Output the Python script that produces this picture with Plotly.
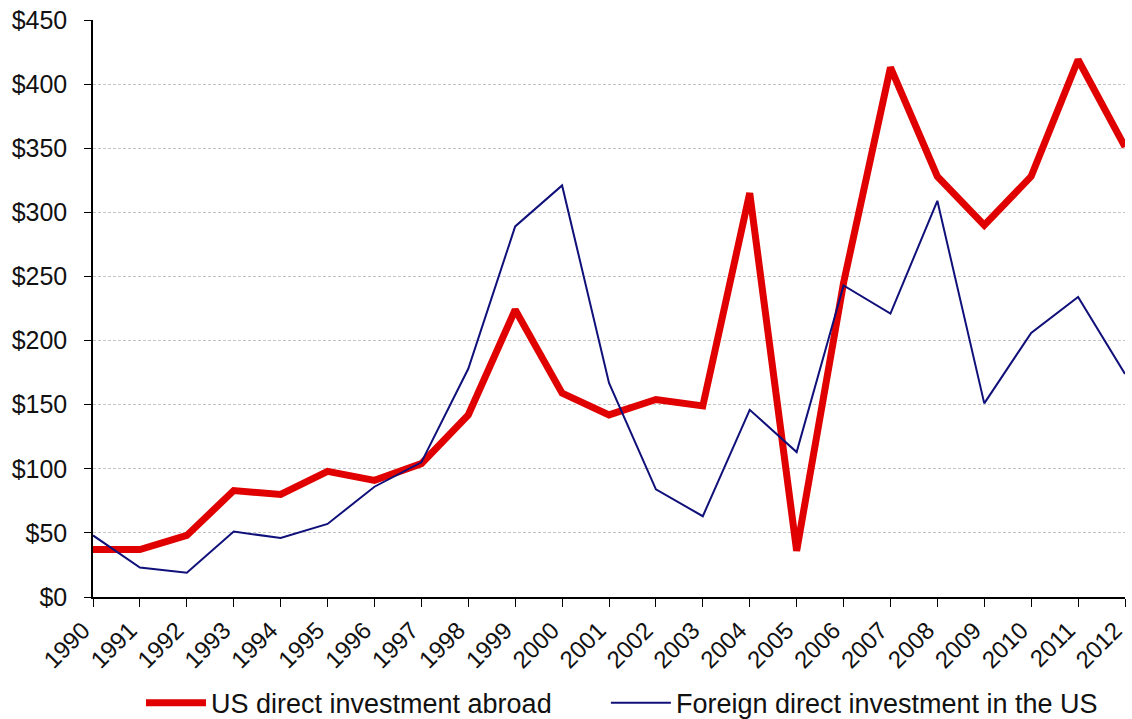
import plotly.graph_objects as go

years = list(range(1990, 2013))
us_abroad = [37, 37, 48, 83, 80, 98, 91, 104, 142, 224, 159, 142, 154, 149,
             315, 36, 245, 413, 328, 290, 328, 419, 351]
foreign_in_us = [48, 23, 19, 51, 46, 57, 86, 105, 178, 289, 321, 167, 84, 63,
                 146, 113, 243, 221, 309, 151, 206, 234, 174]
series_names = ["US direct investment abroad", "Foreign direct investment in the US"]
y_ticks = [0, 50, 100, 150, 200, 250, 300, 350, 400, 450]

fig = go.Figure()
fig.add_trace(go.Scatter(x=years, y=us_abroad, mode="lines", name=series_names[0],
                         line=dict(color="#E00000", width=7), legend="legend"))
fig.add_trace(go.Scatter(x=years, y=foreign_in_us, mode="lines", name=series_names[1],
                         line=dict(color="#10107A", width=2), legend="legend2"))

legend_common = dict(orientation="h", y=-0.184, xanchor="left", yanchor="middle",
                     font=dict(size=27, color="#111111"), itemwidth=60,
                     bgcolor="rgba(0,0,0,0)")

fig.update_layout(
    width=1132, height=719,
    margin=dict(l=93, r=7, t=20, b=122, autoexpand=False),
    paper_bgcolor="white", plot_bgcolor="white",
    font=dict(family="Liberation Sans, Arial, sans-serif", color="#111111"),
    showlegend=True,
    legend=dict(x=0.0465, **legend_common),
    legend2=dict(x=0.497, **legend_common),
    xaxis=dict(range=[1990, 2012], tickmode="array", tickvals=years,
               ticktext=[str(y) for y in years], tickangle=-45,
               tickfont=dict(size=24), showgrid=False, showline=True,
               linecolor="black", linewidth=1.5, ticks="outside", ticklen=8,
               tickcolor="black", zeroline=False, automargin=False,
               ticklabelstandoff=0, ticklabelshift=-10, ticklabeloverflow="allow"),
    yaxis=dict(range=[0, 450], tickmode="array", tickvals=y_ticks,
               ticktext=["$" + str(v) for v in y_ticks], tickfont=dict(size=25),
               showgrid=True, gridcolor="#c4c4c4", griddash="3px,2px", gridwidth=1,
               showline=True, linecolor="black", linewidth=1.5, ticks="outside",
               ticklen=7, tickcolor="black", zeroline=False, automargin=False,
               ticklabelstandoff=12),
)

fig.write_html("out.html", config={"displayModeBar": False},
               post_script="document.body.style.margin='0px';")
